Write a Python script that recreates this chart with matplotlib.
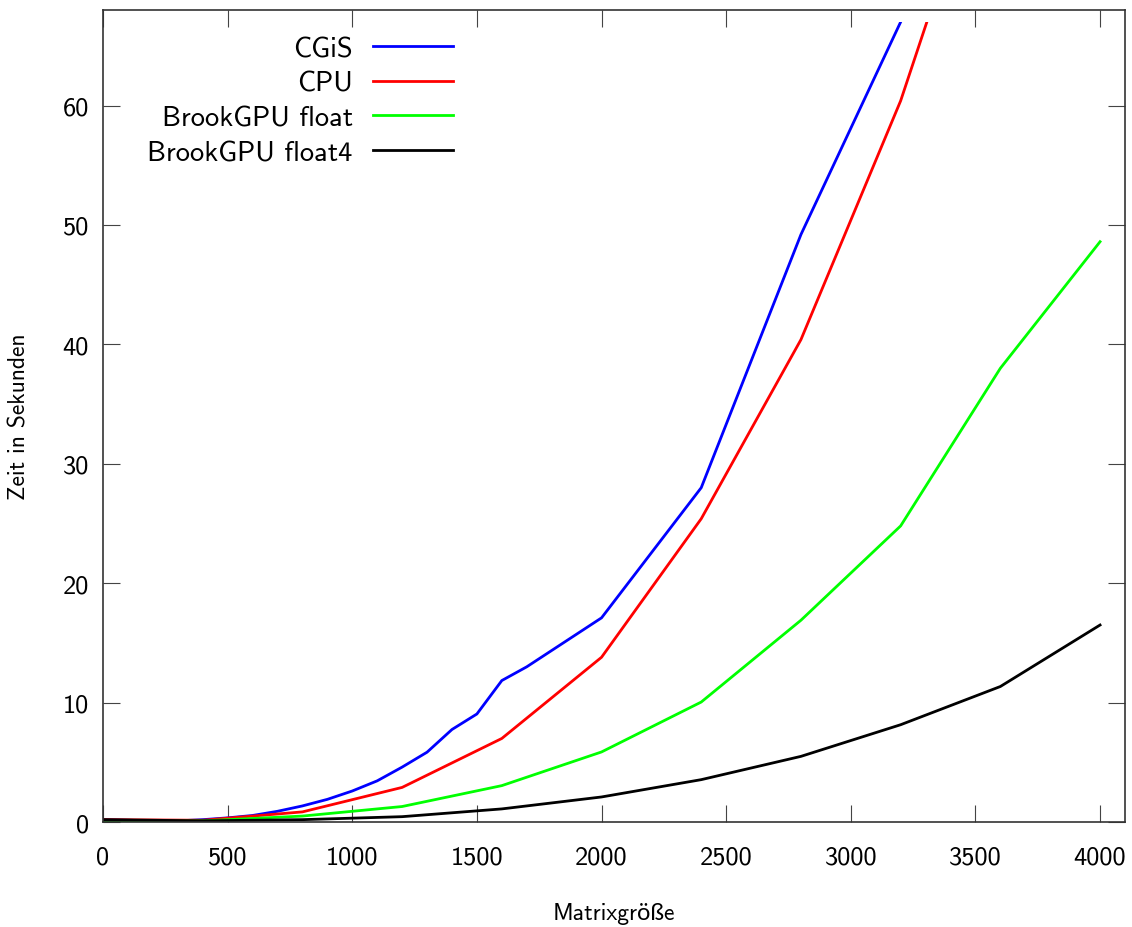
import numpy as np
import matplotlib
matplotlib.use("Agg")
import matplotlib.pyplot as plt
from matplotlib.patches import Rectangle

plt.rcParams['font.family'] = ['cmss10', 'Lato', 'DejaVu Sans']
plt.rcParams['axes.unicode_minus'] = False

# Messwerte (Matrixgröße -> Zeit in Sekunden)
n_cgis = [0, 100, 200, 300, 400, 500, 600, 700, 800, 900, 1000, 1100, 1200,
          1300, 1400, 1500, 1600, 1700, 2000, 2400, 2800, 3200]
t_cgis = [0.2, 0.15, 0.1, 0.1, 0.2, 0.35, 0.55, 0.9, 1.35, 1.9, 2.6, 3.45, 4.6,
          5.85, 7.75, 9.05, 11.85, 13.0, 17.1, 28.0, 49.2, 67.0]

n_cpu = [0, 400, 800, 1200, 1600, 2000, 2400, 2800, 3200, 3600]
t_cpu = [0.2, 0.15, 0.85, 2.9, 7.0, 13.8, 25.4, 40.4, 60.4, 85.5]

n_float = [0, 400, 800, 1200, 1600, 2000, 2400, 2800, 3200, 3600, 4000]
t_float = [0.0, 0.1, 0.5, 1.3, 3.05, 5.87, 10.05, 16.9, 24.8, 38.0, 48.6]

n_float4 = [0, 400, 800, 1200, 1600, 2000, 2400, 2800, 3200, 3600, 4000]
t_float4 = [0.2, 0.1, 0.2, 0.45, 1.1, 2.1, 3.55, 5.5, 8.15, 11.35, 16.5]

series = [
    ("CGiS", n_cgis, t_cgis, "#0000ff"),
    ("CPU", n_cpu, t_cpu, "#ff0000"),
    ("BrookGPU float", n_float, t_float, "#00ff00"),
    ("BrookGPU float4", n_float4, t_float4, "#000000"),
]

fig = plt.figure(figsize=(11.32, 9.28), dpi=100)
ax = fig.add_axes([0.091, 0.1131, 0.9028, 0.8750])

# Kurven werden bei 67 s abgeschnitten (wie im Original)
clip = Rectangle((0, 0), 4100, 67, transform=ax.transData)
for label, n, t, col in series:
    line, = ax.plot(n, t, color=col, lw=2.0, label=label)
    line.set_clip_path(clip)

ax.set_xlim(0, 4100)
ax.set_ylim(0, 68)
ax.set_xticks(np.arange(0, 4001, 500))
ax.set_yticks(np.arange(0, 61, 10))

ax.tick_params(direction='in', top=True, right=True, length=12, width=0.8,
               color='#444444', labelsize=19)
ax.tick_params(axis='x', pad=17)
ax.tick_params(axis='y', pad=10)
for sp in ax.spines.values():
    sp.set_linewidth(1.2)
    sp.set_color('#333333')

ax.set_xlabel("Matrixgröße", fontsize=17, labelpad=24)
ax.set_ylabel("Zeit in Sekunden", fontsize=17, labelpad=23)

leg = ax.legend(loc='upper right', bbox_to_anchor=(0.342, 0.968), frameon=False,
                markerfirst=False, fontsize=20.5, handlelength=2.8,
                handletextpad=0.7, labelspacing=0.34, borderpad=0,
                borderaxespad=0)
for col in leg._legend_handle_box.get_children():
    col.align = 'right'

fig.savefig("out.png", dpi=100)
